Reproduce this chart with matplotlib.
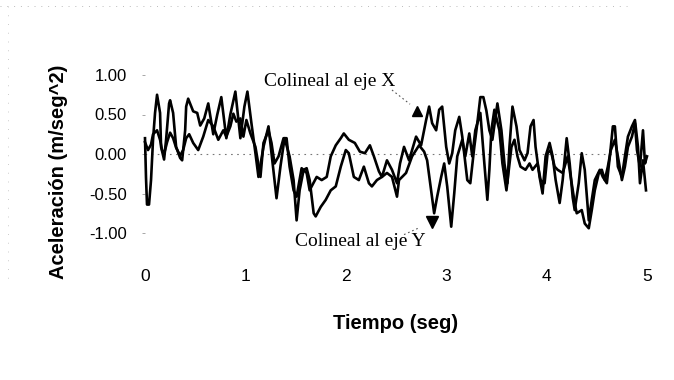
import matplotlib
matplotlib.use("Agg")
import matplotlib.pyplot as plt
from matplotlib.lines import Line2D

plt.rcParams["axes.unicode_minus"] = False

# Aceleración colineal al eje X (m/seg^2) vs tiempo (seg)
t_eje_x = [0.00, 0.03, 0.06, 0.08, 0.12, 0.15, 0.17, 0.19, 0.22, 0.25, 0.28, 0.31, 0.35, 0.38,
           0.41, 0.44, 0.48, 0.53, 0.58, 0.63, 0.68, 0.73, 0.78, 0.81, 0.85, 0.88, 0.91, 0.95,
           0.98, 1.01, 1.05, 1.10, 1.15, 1.18, 1.23, 1.26, 1.29, 1.33, 1.38, 1.41, 1.44, 1.48,
           1.51, 1.56, 1.61, 1.64, 1.66, 1.71, 1.76, 1.81, 1.85, 1.90, 1.95, 1.98, 2.03, 2.09,
           2.14, 2.19, 2.24, 2.28, 2.33, 2.36, 2.41, 2.46, 2.51, 2.54, 2.58, 2.63, 2.70, 2.75,
           2.80, 2.83, 2.86, 2.90, 2.93, 2.96, 3.00, 3.03, 3.06, 3.09, 3.13, 3.16, 3.21, 3.24,
           3.28, 3.31, 3.34, 3.37, 3.40, 3.43, 3.46, 3.51, 3.55, 3.58, 3.61, 3.63, 3.66, 3.70,
           3.73, 3.78, 3.81, 3.84, 3.87, 3.89, 3.93, 3.96, 3.99, 4.03, 4.06, 4.09, 4.13, 4.16,
           4.20, 4.23, 4.26, 4.28, 4.32, 4.35, 4.38, 4.42, 4.45, 4.48, 4.53, 4.56, 4.60, 4.63,
           4.66, 4.68, 4.71, 4.75, 4.78, 4.81, 4.85, 4.88, 4.91, 4.93, 4.96, 4.99]
a_eje_x = [0.15, 0.05, 0.12, 0.25, 0.30, 0.18, 0.05, 0.00, 0.15, 0.27, 0.20, 0.08, -0.02, 0.05,
           0.20, 0.25, 0.14, 0.05, 0.22, 0.43, 0.35, 0.18, 0.30, 0.22, 0.35, 0.51, 0.41, 0.45,
           0.22, 0.43, 0.26, 0.09, -0.29, 0.14, 0.30, 0.14, -0.12, -0.03, 0.20, 0.20, -0.16, -0.46,
           -0.54, -0.18, -0.24, -0.46, -0.41, -0.29, -0.33, -0.29, -0.03, 0.11, 0.20, 0.26, 0.18, 0.14,
           0.03, 0.01, 0.11, -0.03, -0.22, -0.29, -0.08, -0.20, -0.37, -0.12, 0.09, -0.08, 0.22, 0.11,
           0.43, 0.60, 0.39, 0.30, 0.56, 0.60, 0.09, -0.12, 0.01, 0.30, 0.47, 0.22, -0.33, -0.37,
           0.09, 0.39, 0.72, 0.72, 0.55, 0.30, 0.18, 0.64, 0.30, -0.12, -0.37, 0.09, 0.60, 0.35,
           0.05, -0.08, 0.01, 0.35, 0.43, 0.09, -0.29, -0.50, -0.03, 0.14, -0.03, -0.33, -0.62, -0.33,
           0.20, -0.12, -0.55, -0.71, -0.37, 0.01, -0.20, -0.84, -0.58, -0.33, -0.20, -0.29, -0.37, -0.03,
           0.35, 0.35, -0.16, -0.29, -0.03, 0.22, 0.35, 0.43, 0.09, -0.37, -0.08, -0.46]

# Aceleración colineal al eje Y (m/seg^2) vs tiempo (seg)
t_eje_y = [0.00, 0.01, 0.02, 0.04, 0.06, 0.08, 0.10, 0.12, 0.15, 0.16, 0.19, 0.21, 0.24, 0.25,
           0.28, 0.31, 0.35, 0.37, 0.40, 0.41, 0.43, 0.48, 0.52, 0.55, 0.59, 0.63, 0.68, 0.72,
           0.76, 0.81, 0.85, 0.90, 0.95, 0.99, 1.02, 1.06, 1.10, 1.13, 1.18, 1.23, 1.27, 1.31,
           1.35, 1.39, 1.44, 1.48, 1.51, 1.54, 1.58, 1.61, 1.64, 1.68, 1.70, 1.75, 1.80, 1.85,
           1.90, 1.95, 2.00, 2.03, 2.08, 2.13, 2.18, 2.23, 2.26, 2.31, 2.36, 2.41, 2.46, 2.51,
           2.53, 2.60, 2.66, 2.73, 2.78, 2.81, 2.85, 2.88, 2.91, 2.95, 2.98, 3.01, 3.05, 3.08,
           3.11, 3.16, 3.19, 3.23, 3.26, 3.29, 3.34, 3.38, 3.41, 3.43, 3.45, 3.48, 3.53, 3.56,
           3.60, 3.65, 3.68, 3.71, 3.74, 3.79, 3.83, 3.86, 3.91, 3.94, 3.98, 4.01, 4.04, 4.08,
           4.11, 4.16, 4.21, 4.24, 4.28, 4.30, 4.35, 4.38, 4.42, 4.45, 4.48, 4.52, 4.55, 4.58,
           4.61, 4.64, 4.68, 4.71, 4.75, 4.78, 4.81, 4.85, 4.88, 4.90, 4.93, 4.96, 4.98, 5.00]
a_eje_y = [0.20, -0.30, -0.64, -0.64, -0.33, 0.18, 0.52, 0.75, 0.52, 0.09, -0.07, 0.18, 0.64, 0.68,
           0.52, 0.09, -0.05, -0.08, 0.30, 0.60, 0.70, 0.54, 0.52, 0.36, 0.45, 0.64, 0.25, 0.50,
           0.72, 0.20, 0.50, 0.79, 0.20, 0.60, 0.79, 0.39, 0.01, -0.29, 0.09, 0.35, -0.10, -0.56,
           -0.15, 0.20, -0.03, -0.33, -0.84, -0.46, -0.20, -0.18, -0.33, -0.75, -0.79, -0.67, -0.58, -0.46,
           -0.41, -0.16, 0.05, 0.01, -0.29, -0.33, -0.16, -0.37, -0.41, -0.33, -0.29, -0.24, -0.29, -0.54,
           -0.33, -0.24, -0.03, 0.11, 0.03, -0.08, -0.46, -0.75, -0.54, -0.29, -0.12, -0.41, -0.92, -0.50,
           -0.03, 0.18, -0.03, 0.26, -0.03, 0.30, 0.52, -0.12, -0.58, -0.20, 0.30, 0.56, 0.30, -0.12,
           -0.46, 0.09, 0.18, -0.03, -0.16, -0.20, -0.12, -0.20, -0.12, -0.33, -0.37, 0.01, 0.05, -0.16,
           -0.20, -0.24, -0.03, -0.29, -0.62, -0.75, -0.71, -0.88, -0.94, -0.71, -0.46, -0.24, -0.20, -0.33,
           -0.16, 0.05, 0.18, -0.03, -0.33, -0.16, 0.09, 0.22, 0.39, 0.05, -0.16, 0.30, -0.12, -0.03]

y_ticks = [1.0, 0.5, 0.0, -0.5, -1.0]
y_tick_labels = ["1.00", "0.50", "0.00", "-0.50", "-1.00"]
x_ticks = [0, 1, 2, 3, 4, 5]
x_tick_labels = ["0", "1", "2", "3", "4", "5"]

W, H = 674, 380
fig = plt.figure(figsize=(W / 100, H / 100), dpi=100)
ax = fig.add_axes([145 / W, (H - 233) / H, 502 / W, 158 / H])
ax.set_xlim(0, 5)
ax.set_ylim(-1, 1)
for s in ax.spines.values():
    s.set_visible(False)

sans = "Liberation Sans"
serif = "Liberation Serif"

# zero reference line
ax.axhline(0, color="#777777", lw=0.8, ls=(0, (1.5, 4)), zorder=1)

ax.plot(t_eje_x, a_eje_x, color="black", lw=1.9, zorder=3, clip_on=False,
        solid_joinstyle="round")
ax.plot(t_eje_y, a_eje_y, color="black", lw=1.9, zorder=3, clip_on=False,
        solid_joinstyle="round")

ax.set_yticks(y_ticks)
ax.set_yticklabels(y_tick_labels, fontfamily=sans, fontsize=12)
ax.set_xticks(x_ticks)
ax.set_xticklabels(x_tick_labels, fontfamily=sans, fontsize=12.5)
ax.tick_params(axis="y", length=2, width=0.6, color="#999999", pad=11, left=True)
ax.tick_params(axis="x", length=0, pad=26)

ax.set_xlabel("Tiempo (seg)", fontfamily=sans, fontsize=14.5, fontweight="bold")
ax.xaxis.set_label_coords(0.5, -(314 - 233) / 158, transform=ax.transAxes)
ax.set_ylabel("Aceleración (m/seg^2)", fontfamily=sans, fontsize=14.5, fontweight="bold")
ax.yaxis.set_label_coords(-(145 - 68) / 502, (233 - 172) / 158, transform=ax.transAxes)

# annotation for the X component
ax.text(1.84, 0.92, "Colineal al eje X", fontfamily=serif, fontsize=14,
        ha="center", va="center")
ax.plot([2.46, 2.64], [0.81, 0.63], color="#555555", lw=0.8, ls=(0, (1.5, 2.5)),
        clip_on=False)
ax.plot([2.71], [0.54], marker="^", color="black", markersize=7, clip_on=False, zorder=4)

# annotation for the Y component
ax.text(2.14, -1.11, "Colineal al eje Y", fontfamily=serif, fontsize=14,
        ha="center", va="center")
ax.plot([2.58, 2.72], [-1.02, -0.94], color="#555555", lw=0.8, ls=(0, (1.5, 2.5)),
        clip_on=False)
ax.plot([2.86], [-0.86], marker="v", color="black", markersize=8, clip_on=False, zorder=4)

# faint dotted frame around the sheet
fig.add_artist(Line2D([0.0, 0.93], [1 - 6 / H, 1 - 6 / H], transform=fig.transFigure,
                      color="#bbbbbb", lw=0.7, ls=(0, (1, 6))))
fig.add_artist(Line2D([8 / W, 8 / W], [1 - 6 / H, 1 - 280 / H], transform=fig.transFigure,
                      color="#cccccc", lw=0.7, ls=(0, (1, 8))))

fig.savefig("out.png", dpi=100, facecolor="white")
